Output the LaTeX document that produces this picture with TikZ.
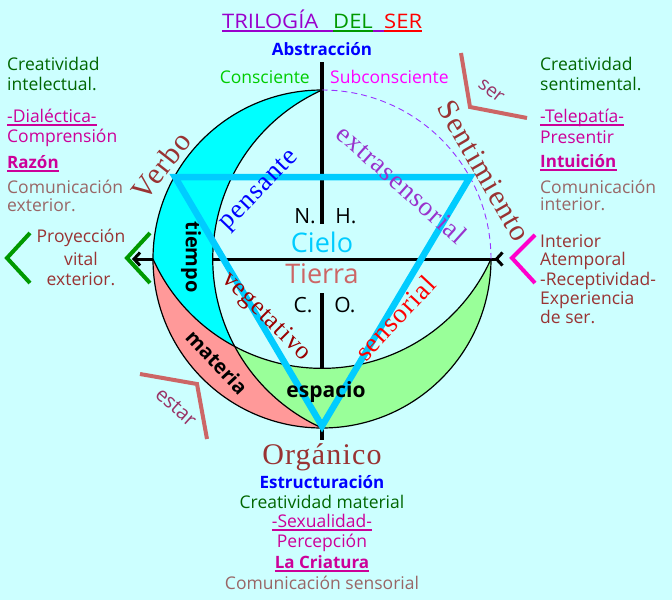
\documentclass[tikz,border=0pt]{standalone}
\usepackage{fontspec}
\usetikzlibrary{arrows.meta}
\newfontfamily\cs{Open Sans}
\newfontfamily\sr[LetterSpace=4]{Liberation Serif}
\newcommand\fsz[1]{\fontsize{#1}{#1}\selectfont}
\definecolor{bgc}{HTML}{CCFFFF}
\definecolor{cyanc}{HTML}{00FFFF}
\definecolor{pinkc}{HTML}{FF9999}
\definecolor{greenc}{HTML}{99FF99}
\definecolor{tric}{HTML}{00CCFF}
\definecolor{dkgreen}{HTML}{006600}
\definecolor{magc}{HTML}{CC0099}
\definecolor{comc}{HTML}{996666}
\definecolor{brownc}{HTML}{993333}
\definecolor{brgreen}{HTML}{00CC00}
\definecolor{subc}{HTML}{FF00FF}
\definecolor{brackg}{HTML}{009900}
\definecolor{brackm}{HTML}{FF00CC}
\definecolor{titp}{HTML}{9900CC}
\definecolor{extc}{HTML}{9933CC}
\definecolor{vegc}{HTML}{990000}
\definecolor{tierc}{HTML}{CC6666}
\definecolor{serc}{HTML}{993366}
\definecolor{dashc}{HTML}{9933FF}
\begin{document}
\begin{tikzpicture}[x=1pt,y=-1pt,
  txt/.style={inner sep=0pt, font=\cs\fsz{17.5}},
  btxt/.style={inner sep=0pt, font=\cs\bfseries\fsz{17}},
  ttl/.style={inner sep=0pt, font=\cs\fsz{20}, xscale=1.1, transform shape, anchor=base west},
  srf/.style={inner sep=0pt, font=\sr\fsz{30}},
  srs/.style={inner sep=0pt, font=\sr\fsz{27}},
  inner/.style={inner sep=0pt, font=\cs\bfseries\fsz{20}},
  uline/.style={line width=1.8pt},
  bracket/.style={line width=4pt, line join=miter},
  outline/.style={line width=1.2pt, black},
  axis/.style={line width=3.3pt, black}]
\useasboundingbox (0,0) rectangle (672,600);
\fill[bgc] (0,0) rectangle (672,600);
\coordinate (O) at (322,259);
% axes (partly hidden under the crescents)
\draw[axis] (322,62) -- (322,224);
\draw[axis] (322,293) -- (322,440);
\draw[line width=3pt, {Straight Barb[length=6pt,width=13pt]}-{Straight Barb[reversed,length=6pt,width=13pt]}] (132,259) -- (504,259);
% crescents
\fill[cyanc] (322,90) arc[start angle=270, end angle=180, radius=169]
  arc[start angle=155.79, end angle=118.15, radius=185.31]
  arc[start angle=151.85, end angle=245.79, radius=185.31] -- cycle;
\fill[pinkc] (153,259) arc[start angle=180, end angle=90, radius=169]
  arc[start angle=114.21, end angle=151.85, radius=185.31]
  arc[start angle=118.15, end angle=155.79, radius=185.31] -- cycle;
\fill[greenc] (322,428) arc[start angle=90, end angle=0, radius=169]
  arc[start angle=24.21, end angle=118.15, radius=185.31]
  arc[start angle=151.85, end angle=114.21, radius=185.31] -- cycle;
% outlines
\draw[outline] (322,90) arc[start angle=270, end angle=0, radius=169];
\draw[dashc, line width=0.9pt, dash pattern=on 6pt off 4pt] (491,259) arc[start angle=0, end angle=-90, radius=169];
\draw[outline] (322.1,90) arc[start angle=245.79, end angle=114.21, radius=185.31];
\draw[outline] (153,259) arc[start angle=155.79, end angle=24.21, radius=185.31];
% triangle
\draw[tric, line width=6.5pt, line join=miter] (175,177) -- (470,177) -- (322,426) -- cycle;
% brackets
\draw[brackg, bracket] (30,233) -- (7,258) -- (30,283);
\draw[brackg, bracket] (150,233) -- (127,258) -- (150,283);
\draw[brackm, bracket] (535,235) -- (512,258) -- (535,283);
\draw[tierc, bracket] (461,53) -- (470,107) -- (527,118);
\draw[tierc, bracket] (140,374) -- (197,384) -- (207,439);
% title
\node[ttl, text=titp] (t1) at (222,28) {TRILOGÍA};
\node[ttl, text=brackg] (t2) at (333,28) {DEL};
\node[ttl, text=red] (t3) at (384,28) {SER};
\draw[titp, uline] ([yshift=-3pt]t1.base west) -- ([yshift=-3pt]t2.base west);
\draw[brackg, uline] ([yshift=-3pt]t2.base west) -- ([yshift=-3pt]t2.base east);
\draw[titp, uline] ([yshift=-3pt]t2.base east) -- ([yshift=-3pt]t3.base west);
\draw[red, uline] ([yshift=-3pt]t3.base west) -- ([yshift=-3pt]t3.base east);
\node[btxt, text=blue, anchor=base] (abs) at (322,55) {Abstracción};
\node[txt, text=brgreen, anchor=base east] (cons) at (310,83) {Consciente};
\node[txt, text=subc, anchor=base west] (subc) at (330,83) {Subconsciente};
% left column
\node[txt, text=dkgreen, anchor=base west] (l1) at (7,70) {Creatividad};
\node[txt, text=dkgreen, anchor=base west] (l2) at (7,90) {intelectual.};
\node[txt, text=magc, anchor=base west] (l3) at (7,122) {-Dialéctica-};
\draw[magc, uline] ([yshift=-3pt]l3.base west) -- ([yshift=-3pt]l3.base east);
\node[txt, text=magc, anchor=base west] (l4) at (7,142) {Comprensión};
\node[btxt, text=magc, anchor=base west] (l5) at (7,168) {Razón};
\draw[magc, uline] ([yshift=-3pt]l5.base west) -- ([yshift=-3pt]l5.base east);
\node[txt, text=comc, anchor=base west] (l6) at (7,193) {Comunicación};
\node[txt, text=comc, anchor=base west] (l7) at (7,211) {exterior.};
\node[txt, text=brownc, anchor=base] (p1) at (81,242) {Proyección};
\node[txt, text=brownc, anchor=base] (p2) at (81,265) {vital};
\node[txt, text=brownc, anchor=base] (p3) at (81,285) {exterior.};
% right column
\node[txt, text=dkgreen, anchor=base west] (r1) at (540,70) {Creatividad};
\node[txt, text=dkgreen, anchor=base west] (r2) at (540,90) {sentimental.};
\node[txt, text=magc, anchor=base west] (r3) at (540,122) {-Telepatía-};
\draw[magc, uline] ([yshift=-3pt]r3.base west) -- ([yshift=-3pt]r3.base east);
\node[txt, text=magc, anchor=base west] (r4) at (540,143) {Presentir};
\node[btxt, text=magc, anchor=base west] (r5) at (540,167) {Intuición};
\draw[magc, uline] ([yshift=-3pt]r5.base west) -- ([yshift=-3pt]r5.base east);
\node[txt, text=comc, anchor=base west] (r6) at (540,193) {Comunicación};
\node[txt, text=comc, anchor=base west] (r7) at (540,210) {interior.};
\node[txt, text=brownc, anchor=base west] (r8) at (540,247) {Interior};
\node[txt, text=brownc, anchor=base west] (r9) at (540,265) {Atemporal};
\node[txt, text=brownc, anchor=base west] (r10) at (540,285) {-Receptividad-};
\node[txt, text=brownc, anchor=base west] (r11) at (540,304) {Experiencia};
\node[txt, text=brownc, anchor=base west] (r12) at (540,323) {de ser.};
% bottom
\node[srf, text=brownc, anchor=base] (org) at (322,464) {Orgánico};
\node[btxt, text=blue, anchor=base] (b1) at (322,488) {Estructuración};
\node[txt, text=dkgreen, anchor=base] (b2) at (322,508) {Creatividad material};
\node[txt, text=magc, anchor=base] (b3) at (322,527) {-Sexualidad-};
\draw[magc, uline] ([yshift=-3pt]b3.base west) -- ([yshift=-3pt]b3.base east);
\node[txt, text=magc, anchor=base] (b4) at (322,547) {Percepción};
\node[btxt, text=magc, anchor=base] (b5) at (322,568) {La Criatura};
\draw[magc, uline] ([yshift=-3pt]b5.base west) -- ([yshift=-3pt]b5.base east);
\node[txt, text=comc, anchor=base] (b6) at (322,589) {Comunicación sensorial};
% rotated serif labels
\node[srf, text=brownc, rotate=52] (verbo) at (161,166) {Verbo};
\node[srf, text=brownc, rotate=-60] (sent) at (484,171) {Sentimiento};
\node[srs, text=blue, rotate=46] (pens) at (260,191) {pensante};
\node[srs, text=extc, rotate=-42] (extra) at (402,184) {extrasensorial};
\node[srs, font=\sr\fsz{25.5}, text=vegc, rotate=-45] (veg) at (266,317) {vegetativo};
\node[srs, text=red, rotate=47] (sens) at (395,318) {sensorial};
% inner labels
\node[txt, font=\cs\fsz{21}, anchor=base] (nn) at (305,223) {N.};
\node[txt, font=\cs\fsz{21}, anchor=base] (hh) at (346,223) {H.};
\node[txt, font=\cs\fsz{27}, text=tric, anchor=base] (cielo) at (322,252) {Cielo};
\node[txt, font=\cs\fsz{27}, text=tierc, anchor=base] (tierra) at (322,283) {Tierra};
\node[txt, font=\cs\fsz{21}, anchor=base] (cc) at (303,312) {C.};
\node[txt, font=\cs\fsz{21}, anchor=base] (oo) at (345,312) {O.};
\node[inner, rotate=-90] (tiempo) at (191,257) {tiempo};
\node[inner, rotate=-47] (materia) at (217,362) {materia};
\node[inner, font=\cs\bfseries\fsz{21}, anchor=base] (espacio) at (326,397) {espacio};
\node[txt, font=\cs\fsz{19}, text=serc, rotate=-38] (ser) at (491,91) {ser};
\node[txt, font=\cs\fsz{20}, text=serc, rotate=-42] (estar) at (176,407) {estar};
\end{tikzpicture}
\end{document}
